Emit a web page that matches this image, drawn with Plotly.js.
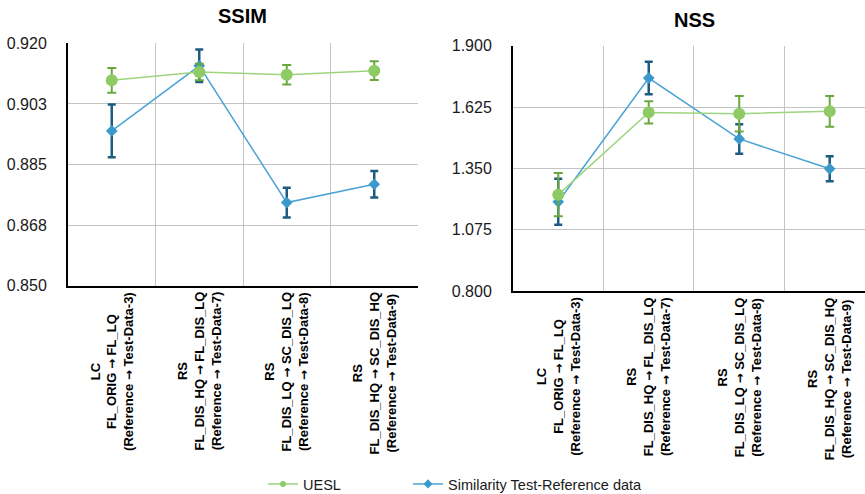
<!DOCTYPE html>
<html>
<head>
<meta charset="utf-8">
<script src="https://cdn.plot.ly/plotly-3.0.1.min.js"></script>
<style>
  html, body { margin: 0; padding: 0; background: #fff; overflow: hidden; }
  #chart { width: 865px; height: 500px; }
</style>
</head>
<body>
<div id="chart"></div>
<script>
// Test configurations (one column per configuration)
const categories = [
  "LC<br>FL_ORIG → FL_LQ<br>(Reference → Test-Data-3)",
  "RS<br>FL_DIS_HQ → FL_DIS_LQ<br>(Reference → Test-Data-7)",
  "RS<br>FL_DIS_LQ → SC_DIS_LQ<br>(Reference → Test-Data-8)",
  "RS<br>FL_DIS_HQ → SC_DIS_HQ<br>(Reference → Test-Data-9)"
];

const seriesNames = ["UESL", "Similarity Test-Reference data"];

// SSIM panel
const ssimUesl = [0.9093, 0.9117, 0.9109, 0.9121];
const ssimUeslErr = [0.0036, 0.0024, 0.0028, 0.0027];
const ssimSim = [0.8947, 0.9135, 0.8740, 0.8793];
const ssimSimErr = [0.0076, 0.0047, 0.0043, 0.0038];
const ssimTickVals = [0.85, 0.8675, 0.885, 0.9025, 0.92];
const ssimTickText = ["0.850", "0.868", "0.885", "0.903", "0.920"];

// NSS panel
const nssUesl = [1.232, 1.601, 1.595, 1.606];
const nssUeslErr = [0.097, 0.050, 0.080, 0.069];
const nssSim = [1.200, 1.755, 1.482, 1.348];
const nssSimErr = [0.103, 0.073, 0.066, 0.056];
const nssTickVals = [0.8, 1.075, 1.35, 1.625, 1.9];
const nssTickText = ["0.800", "1.075", "1.350", "1.625", "1.900"];

const xIdx = categories.map((_, i) => i);
const boundaries = categories.map((_, i) => i + 0.5);

const FONT = "Liberation Sans, Arial, Helvetica, sans-serif";
const GREEN_LINE = "#9dd47e", GREEN_MARK = "#8fcb65", GREEN_ERR = "#6aa83e";
const BLUE_LINE = "#4aa3d5", BLUE_MARK = "#3b99cc", BLUE_ERR = "#1d5b80";

function simTrace(y, err, xa, ya) {
  return {
    x: xIdx, y: y, xaxis: xa, yaxis: ya, type: "scatter", mode: "lines+markers",
    showlegend: false,
    line: { color: BLUE_LINE, width: 1.5 },
    marker: { symbol: "diamond", size: 9, color: BLUE_MARK },
    error_y: { type: "data", array: err, visible: true, color: BLUE_ERR, thickness: 2.5, width: 4 }
  };
}
function ueslTrace(y, err, xa, ya) {
  return {
    x: xIdx, y: y, xaxis: xa, yaxis: ya, type: "scatter", mode: "lines+markers",
    showlegend: false,
    line: { color: GREEN_LINE, width: 1.5 },
    marker: { symbol: "circle", size: 12, color: GREEN_MARK },
    error_y: { type: "data", array: err, visible: true, color: GREEN_ERR, thickness: 2, width: 4.5 }
  };
}

const data = [
  simTrace(ssimSim, ssimSimErr, "x", "y"),
  ueslTrace(ssimUesl, ssimUeslErr, "x", "y"),
  simTrace(nssSim, nssSimErr, "x2", "y2"),
  ueslTrace(nssUesl, nssUeslErr, "x2", "y2"),
  // legend entries
  { x: [null], y: [null], type: "scatter", mode: "lines+markers", name: seriesNames[0], legend: "legend",
    line: { color: GREEN_LINE, width: 1.5 }, marker: { symbol: "circle", size: 6, color: GREEN_MARK } },
  { x: [null], y: [null], type: "scatter", mode: "lines+markers", name: seriesNames[1], legend: "legend2",
    line: { color: BLUE_LINE, width: 1.5 }, marker: { symbol: "diamond", size: 7, color: BLUE_MARK } }
];

// figure is slightly taller than the viewport; positions below are measured from the top
const W = 865, H = 500;
const ssimDomX = [68 / W, 418 / W], ssimDomY = [(H - 285.7) / H, (H - 43.3) / H];
const nssDomX = [513 / W, 1], nssDomY = [(H - 291) / H, (H - 45.7) / H];

function xAxis(domain, anchor, range) {
  return {
    domain: domain, anchor: anchor, range: range, type: "linear",
    tickmode: "array", tickvals: boundaries, showticklabels: false, ticks: "",
    showgrid: true, gridcolor: "#c4c4c4", gridwidth: 1, zeroline: false,
    showline: true, linecolor: "#000", linewidth: 2
  };
}
function yAxis(domain, anchor, tv, tt) {
  return {
    domain: domain, anchor: anchor, range: [tv[0], tv[tv.length - 1]],
    tickmode: "array", tickvals: tv, ticktext: tt,
    ticks: "outside", ticklen: 16, tickcolor: "rgba(0,0,0,0)",
    tickfont: { family: FONT, size: 16, color: "#1a1a1a" },
    showgrid: true, gridcolor: "#c4c4c4", gridwidth: 1, zeroline: false,
    showline: true, linecolor: "#000", linewidth: 2
  };
}

// wider arrow glyph inside the category labels
const ARROW = '<span style="font-family:DejaVu Sans;font-size:12px">→</span>';

const annotations = [
  { text: "<b>SSIM</b>", xref: "paper", yref: "paper", x: 242.5 / W, y: (H - 16) / H,
    xanchor: "center", yanchor: "middle", showarrow: false, font: { family: FONT, size: 20, color: "#000" } },
  { text: "<b>NSS</b>", xref: "paper", yref: "paper", x: 694 / W, y: (H - 20) / H,
    xanchor: "center", yanchor: "middle", showarrow: false, font: { family: FONT, size: 20, color: "#000" } }
];
categories.forEach((c, i) => {
  [["x", ssimDomY[0]], ["x2", nssDomY[0]]].forEach(([xr, yb]) => {
    annotations.push({
      text: "<b>" + c.split("→").join(ARROW) + "</b>", xref: xr, yref: "paper", x: i, y: yb, yshift: -4,
      xanchor: "center", yanchor: "top", textangle: -90, align: "center",
      showarrow: false, font: { family: FONT, size: 13, color: "#000" }
    });
  });
});

const legendCommon = {
  orientation: "h", xanchor: "left", yanchor: "middle", y: 16 / H,
  font: { family: FONT, size: 14.5, color: "#1a1a1a" }, bgcolor: "rgba(0,0,0,0)"
};

const layout = {
  width: W, height: H,
  margin: { l: 0, r: 0, t: 0, b: 0 },
  paper_bgcolor: "#fff", plot_bgcolor: "#fff",
  font: { family: FONT },
  xaxis: xAxis(ssimDomX, "y", [-0.5, 3.5]),
  yaxis: yAxis(ssimDomY, "x", ssimTickVals, ssimTickText),
  xaxis2: xAxis(nssDomX, "y2", [-0.5, 3.39]),
  yaxis2: yAxis(nssDomY, "x2", nssTickVals, nssTickText),
  annotations: annotations,
  showlegend: true,
  legend: Object.assign({}, legendCommon, { x: 263 / W }),
  legend2: Object.assign({}, legendCommon, { x: 408 / W })
};

Plotly.newPlot("chart", data, layout, { staticPlot: true, displayModeBar: false });
</script>
</body>
</html>
